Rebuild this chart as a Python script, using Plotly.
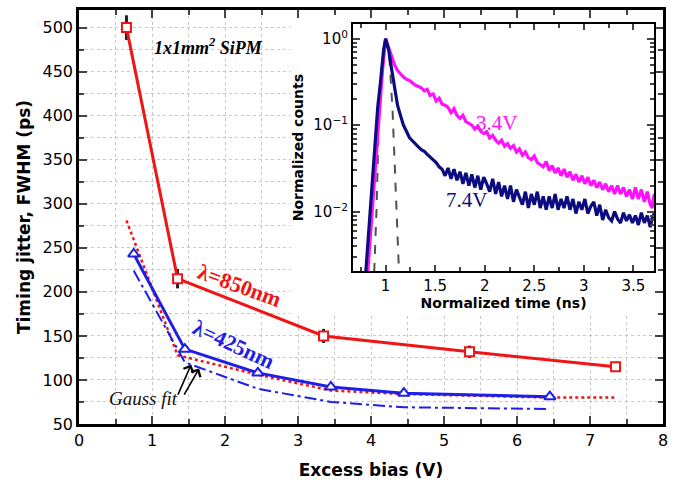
import plotly.graph_objects as go

# ---------------- main panel data ----------------
red_x = [0.65, 1.35, 3.35, 5.35, 7.35]
red_y = [500, 215, 150, 132, 115]
red_err = [14, 11, 8, 7, 0]

blue_x = [0.75, 1.45, 2.45, 3.45, 4.45, 6.45]
blue_y = [243, 135, 108, 92, 85, 81]

redfit_x = [0.65, 1.35, 2.45, 3.45, 4.45, 5.45, 6.45, 7.35]
redfit_y = [281, 128, 106, 88, 84, 82, 80, 80]

bluefit_x = [0.75, 1.45, 2.45, 3.45, 4.45, 5.45, 6.45]
bluefit_y = [224, 120, 90, 75, 69, 68, 67]

# ---------------- inset data ----------------
mag_t = [0.82, 0.85, 0.88, 0.91, 0.94, 0.97, 1.00,
         1.03, 1.06, 1.09, 1.12, 1.15, 1.18, 1.21, 1.24, 1.27, 1.30, 1.33, 1.36, 1.39, 1.42,
         1.45, 1.48, 1.51, 1.54, 1.57, 1.60, 1.63, 1.66, 1.69, 1.72, 1.75, 1.78, 1.81, 1.84,
         1.87, 1.90, 1.93, 1.96, 1.99, 2.02, 2.05, 2.08, 2.11, 2.14, 2.17, 2.20, 2.23, 2.26,
         2.29, 2.32, 2.35, 2.38, 2.41, 2.44, 2.47, 2.50, 2.53, 2.56, 2.59, 2.62, 2.65, 2.68,
         2.71, 2.74, 2.77, 2.80, 2.83, 2.86, 2.89, 2.92, 2.95, 2.98, 3.01, 3.04, 3.07, 3.10,
         3.13, 3.16, 3.19, 3.22, 3.25, 3.28, 3.31, 3.34, 3.37, 3.40, 3.43, 3.46, 3.49, 3.52,
         3.55, 3.58, 3.61, 3.64, 3.67, 3.69, 3.71]
mag_c = [0.002, 0.006, 0.02, 0.06, 0.16, 0.45, 1.0,
         0.8, 0.62, 0.5, 0.43, 0.39, 0.36, 0.34, 0.33, 0.31, 0.29, 0.28, 0.27, 0.25, 0.26,
         0.22, 0.23, 0.19, 0.205, 0.175, 0.17, 0.16, 0.14, 0.155, 0.13, 0.12, 0.13, 0.11, 0.105,
         0.1, 0.09, 0.098, 0.085, 0.08, 0.084, 0.071, 0.076, 0.067, 0.062, 0.067, 0.057, 0.061, 0.054,
         0.058, 0.049, 0.053, 0.045, 0.049, 0.042, 0.04, 0.044, 0.037, 0.035, 0.033, 0.038, 0.03, 0.034,
         0.028, 0.032, 0.026, 0.031, 0.025, 0.029, 0.023, 0.027, 0.022, 0.026, 0.021, 0.025, 0.02, 0.023,
         0.019, 0.022, 0.018, 0.021, 0.017, 0.02, 0.016, 0.02, 0.016, 0.019, 0.015, 0.018, 0.014, 0.019,
         0.014, 0.018, 0.013, 0.017, 0.012, 0.011, 0.016]

navy_t = [0.80, 0.83, 0.86, 0.89, 0.92, 0.95, 0.98, 1.00,
          1.03, 1.06, 1.09, 1.12, 1.15, 1.18, 1.21, 1.24, 1.27, 1.30, 1.33, 1.36, 1.39, 1.42,
          1.45, 1.48, 1.51, 1.54, 1.57, 1.60, 1.63, 1.66, 1.69, 1.72, 1.75, 1.78, 1.81, 1.84,
          1.87, 1.90, 1.93, 1.96, 1.99, 2.02, 2.05, 2.08, 2.11, 2.14, 2.17, 2.20, 2.23, 2.26,
          2.29, 2.32, 2.35, 2.38, 2.41, 2.44, 2.47, 2.50, 2.53, 2.56, 2.59, 2.62, 2.65, 2.68,
          2.71, 2.74, 2.77, 2.80, 2.83, 2.86, 2.89, 2.92, 2.95, 2.98, 3.01, 3.04, 3.07, 3.10,
          3.13, 3.16, 3.19, 3.22, 3.25, 3.28, 3.31, 3.34, 3.37, 3.40, 3.43, 3.46, 3.49, 3.52,
          3.55, 3.58, 3.61, 3.64, 3.67, 3.69, 3.71]
navy_c = [0.002, 0.006, 0.02, 0.07, 0.16, 0.33, 0.75, 1.0,
          0.75, 0.45, 0.26, 0.17, 0.13, 0.1, 0.085, 0.072, 0.066, 0.06, 0.056, 0.052, 0.05, 0.046,
          0.043, 0.04, 0.037, 0.033, 0.031, 0.026, 0.032, 0.024, 0.031, 0.023, 0.029, 0.021, 0.028, 0.02,
          0.027, 0.019, 0.026, 0.018, 0.025, 0.021, 0.017, 0.024, 0.016, 0.022, 0.015, 0.02, 0.014, 0.02,
          0.013, 0.018, 0.015, 0.012, 0.017, 0.011, 0.016, 0.012, 0.017, 0.011, 0.015, 0.0105, 0.015, 0.011,
          0.016, 0.0105, 0.014, 0.011, 0.015, 0.0105, 0.014, 0.0095, 0.013, 0.0105, 0.014, 0.0095, 0.0115, 0.013,
          0.009, 0.012, 0.008, 0.0105, 0.0085, 0.0078, 0.01, 0.0082, 0.0074, 0.0097, 0.0078, 0.0092, 0.0074, 0.009,
          0.007, 0.0097, 0.0074, 0.009, 0.0066, 0.0085, 0.0095]

gauss_t = [0.885, 0.91, 0.93, 0.96, 1.0, 1.04, 1.07, 1.09, 1.11, 1.135]
gauss_c = [0.002, 0.012, 0.1, 0.45, 1.0, 0.55, 0.15, 0.04, 0.01, 0.002]

x_ticks = [0, 1, 2, 3, 4, 5, 6, 7, 8]
y_ticks = [50, 100, 150, 200, 250, 300, 350, 400, 450, 500]
inset_x_ticks = [1, 1.5, 2, 2.5, 3, 3.5]
inset_x_text = ["1", "1.5", "2", "2.5", "3", "3.5"]
inset_y_ticks = [1, 0.1, 0.01]
inset_y_text = ["10<sup>0</sup>", "10<sup>\u22121</sup>", "10<sup>\u22122</sup>"]

RED = "#f01414"
BLUE = "#1e1ee6"
MAG = "#ff10ff"
NAVY = "#0c0c80"
SANS = "DejaVu Sans"
SERIF = "Liberation Serif"

fig = go.Figure()

# fits
fig.add_trace(go.Scatter(x=redfit_x, y=redfit_y, mode="lines",
                         line=dict(color=RED, width=2.5, dash="dot"), showlegend=False))
fig.add_trace(go.Scatter(x=bluefit_x, y=bluefit_y, mode="lines",
                         line=dict(color=BLUE, width=2, dash="12px,4px,3px,4px"), showlegend=False))
# error bars (behind)
fig.add_trace(go.Scatter(x=red_x, y=red_y, mode="markers", marker=dict(size=1, color="rgba(0,0,0,0)"),
                         error_y=dict(type="data", array=red_err, color="#202020", thickness=3, width=0),
                         showlegend=False))
fig.add_trace(go.Scatter(x=red_x, y=red_y, mode="lines+markers",
                         line=dict(color=RED, width=3),
                         marker=dict(symbol="square", size=9, color="white", line=dict(width=2, color=RED)),
                         showlegend=False))
fig.add_trace(go.Scatter(x=blue_x, y=blue_y, mode="lines+markers",
                         line=dict(color=BLUE, width=3),
                         marker=dict(symbol="triangle-up", size=10, color="white", line=dict(width=2, color=BLUE)),
                         showlegend=False))

# inset traces
fig.add_trace(go.Scatter(x=gauss_t, y=gauss_c, mode="lines", xaxis="x2", yaxis="y2",
                         line=dict(color="#505050", width=2, dash="dash"), showlegend=False))
fig.add_trace(go.Scatter(x=mag_t, y=mag_c, mode="lines", xaxis="x2", yaxis="y2",
                         line=dict(color=MAG, width=3.2), showlegend=False))
fig.add_trace(go.Scatter(x=navy_t, y=navy_c, mode="lines", xaxis="x2", yaxis="y2",
                         line=dict(color=NAVY, width=3.2), showlegend=False))

grid_col = "#c8c8c8"
fig.update_layout(
    width=675, height=485,
    margin=dict(l=79, r=8, t=7, b=61),
    plot_bgcolor="white", paper_bgcolor="white",
    font=dict(family=SANS, color="black"),
    xaxis=dict(range=[0, 8], tickvals=x_ticks, ticks="inside", ticklen=8, tickwidth=2,
               mirror="allticks", showline=True, linewidth=2.5, linecolor="black",
               showgrid=True, gridcolor=grid_col, griddash="dot", gridwidth=1,
               zeroline=False, tickfont=dict(size=16, family=SANS),
               minor=dict(dtick=0.5, ticks="inside", ticklen=5, tickwidth=2, showgrid=True,
                          gridcolor=grid_col, griddash="dot"),
               title=dict(text="<b>Excess bias (V)</b>", font=dict(size=17, family=SANS), standoff=16)),
    yaxis=dict(range=[50, 520], tickvals=y_ticks, ticks="inside", ticklen=8, tickwidth=2,
               mirror="allticks", showline=True, linewidth=2.5, linecolor="black",
               showgrid=True, gridcolor=grid_col, griddash="dot", gridwidth=1,
               zeroline=False, tickfont=dict(size=16, family=SANS),
               minor=dict(dtick=25, ticks="inside", ticklen=5, tickwidth=2, showgrid=True,
                          gridcolor=grid_col, griddash="dot"),
               title=dict(text="<b>Timing jitter, FWHM (ps)</b>", font=dict(size=17, family=SANS), standoff=8)),
    xaxis2=dict(domain=[0.469, 0.985], anchor="y2", range=[0.67, 3.71],
                tickvals=inset_x_ticks, ticktext=inset_x_text, ticks="inside", ticklen=6, tickwidth=1.5,
                mirror="allticks", showline=True, linewidth=2, linecolor="black", showgrid=False,
                zeroline=False, tickfont=dict(size=15, family=SANS),
                minor=dict(dtick=0.25, tick0=0.5, ticks="inside", ticklen=4, tickwidth=1.5),
                title=dict(text="<b>Normalized time (ns)</b>", font=dict(size=14, family=SANS), standoff=4)),
    yaxis2=dict(domain=[0.369, 0.966], anchor="x2", type="log", range=[-2.69, 0.17],
                tickvals=inset_y_ticks, ticktext=inset_y_text, ticks="inside", ticklen=7, tickwidth=1.5,
                mirror="allticks", showline=True, linewidth=2, linecolor="black", showgrid=False,
                zeroline=False, tickfont=dict(size=15, family=SANS),
                minor=dict(dtick="D1", ticks="inside", ticklen=4, tickwidth=1.5),
                title=dict(text="<b>Normalized counts</b>", font=dict(size=14, family=SANS), standoff=6)),
)

# white box behind inset and its labels (covers main grid)
fig.add_shape(type="rect", xref="x", yref="y", x0=2.9, x1=8, y0=175, y1=520,
              fillcolor="white", line=dict(width=0), layer="between")

ann = []
ann.append(dict(x=1.77, y=479, xref="x", yref="y", showarrow=False,
                text="<b><i>1x1mm<sup>2</sup> SiPM</i></b>",
                font=dict(family=SERIF, size=18, color="black")))
ann.append(dict(x=2.2, y=207, xref="x", yref="y", showarrow=False, textangle=20,
                text="<b>\u03bb=850nm</b>", font=dict(family=SERIF, size=22, color=RED)))
ann.append(dict(x=2.12, y=140, xref="x", yref="y", showarrow=False, textangle=25,
                text="<b>\u03bb=425nm</b>", font=dict(family=SERIF, size=22, color=BLUE)))
ann.append(dict(x=0.88, y=79, xref="x", yref="y", showarrow=False,
                text="<i>Gauss fit</i>", font=dict(family=SERIF, size=19, color="#111111")))
ann.append(dict(x=1.537, y=117.6, ax=1.347, ay=81.6, xref="x", yref="y", axref="x", ayref="y",
                showarrow=True, arrowhead=4, arrowsize=1.3, arrowwidth=1.6, arrowcolor="black", text=""))
ann.append(dict(x=1.646, y=113.1, ax=1.429, ay=81.6, xref="x", yref="y", axref="x", ayref="y",
                showarrow=True, arrowhead=4, arrowsize=1.3, arrowwidth=1.6, arrowcolor="black", text=""))
ann.append(dict(x=2.12, y=-0.97, xref="x2", yref="y2", showarrow=False,
                text="3.4V", font=dict(family=SERIF, size=21, color=MAG)))
ann.append(dict(x=1.82, y=-1.86, xref="x2", yref="y2", showarrow=False,
                text="7.4V", font=dict(family=SERIF, size=21, color=NAVY)))
fig.update_layout(annotations=ann)

fig.write_html("out.html")
